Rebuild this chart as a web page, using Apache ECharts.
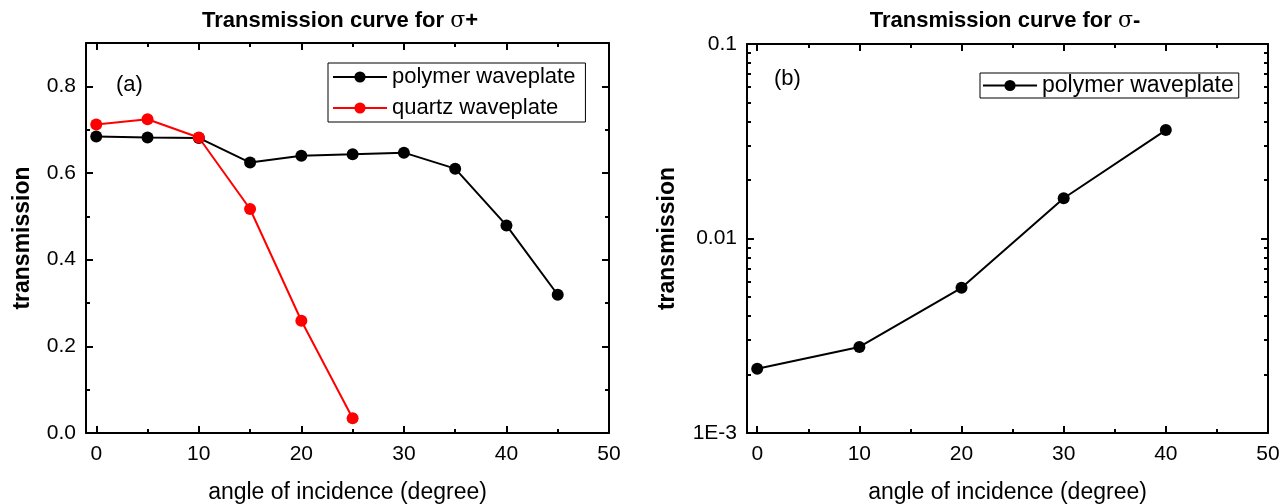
<!DOCTYPE html>
<html>
<head>
<meta charset="utf-8">
<script src="https://cdn.jsdelivr.net/npm/echarts@6/dist/echarts.min.js"></script>
<style>
  html, body { margin: 0; padding: 0; background: #fff; }
  #chart { width: 1286px; height: 504px; }
</style>
</head>
<body>
<div id="chart"></div>
<script>
// panel (a): transmission for sigma+
const anglesA = [0, 5, 10, 15, 20, 25, 30, 35, 40, 45];
const polymerA = [0.684, 0.682, 0.681, 0.624, 0.640, 0.643, 0.647, 0.610, 0.479, 0.319];
const anglesQuartz = [0, 5, 10, 15, 20, 25];
const quartzA = [0.712, 0.724, 0.682, 0.517, 0.259, 0.034];

// panel (b): transmission for sigma-
const anglesB = [0, 10, 20, 30, 40];
const polymerB = [0.00214, 0.00277, 0.00558, 0.0161, 0.0361];

// ticks
const xMajor = [0, 10, 20, 30, 40, 50];
const xMinor = [5, 15, 25, 35, 45];
const yMajorA = [0, 0.2, 0.4, 0.6, 0.8];
const yMinorA = [0.1, 0.3, 0.5, 0.7];
const yMajorB = [0.001, 0.01, 0.1];
const yTickLabelsB = ['1E-3', '0.01', '0.1'];
const yMinorB = [0.002, 0.003, 0.004, 0.005, 0.006, 0.007, 0.008, 0.009,
                 0.02, 0.03, 0.04, 0.05, 0.06, 0.07, 0.08, 0.09];

const FONT = 'Liberation Sans, Arial, sans-serif';
const LINE = { show: true, onZero: false, lineStyle: { color: '#000', width: 2 } };
const NOLINE = { show: false, onZero: false };

function pairs(xs, ys) {
  return xs.map((x, i) => [x, ys[i]]);
}

function tick(vals, len) {
  return { inside: true, length: len, customValues: vals, lineStyle: { width: 2, color: '#000' } };
}

function xAxes(grid, withName) {
  const base = { type: 'value', gridIndex: grid, min: -1, max: 50, splitLine: { show: false } };
  return [
    Object.assign({}, base, {
      position: 'bottom', axisLine: LINE, axisTick: tick(xMajor, 7),
      axisLabel: { customValues: xMajor, fontSize: 21, color: '#000', fontFamily: FONT, margin: 11 },
      name: withName, nameLocation: 'middle', nameGap: 48,
      nameTextStyle: { fontSize: 23, color: '#000', fontFamily: FONT }
    }),
    Object.assign({}, base, { position: 'bottom', axisLine: NOLINE, axisTick: tick(xMinor, 4), axisLabel: { show: false } }),
    Object.assign({}, base, { position: 'top', axisLine: LINE, axisTick: tick(xMajor, 7), axisLabel: { show: false } }),
    Object.assign({}, base, { position: 'top', axisLine: NOLINE, axisTick: tick(xMinor, 4), axisLabel: { show: false } })
  ];
}

function yAxes(grid, base, major, minor, formatter, nameGap) {
  const common = Object.assign({ gridIndex: grid, splitLine: { show: false } }, base);
  return [
    Object.assign({}, common, {
      position: 'left', axisLine: LINE, axisTick: tick(major, 7),
      axisLabel: { customValues: major, formatter: formatter, fontSize: 21, color: '#000', fontFamily: FONT, margin: 10 },
      name: 'transmission', nameLocation: 'middle', nameGap: nameGap,
      nameTextStyle: { fontSize: 23, fontWeight: 'bold', color: '#000', fontFamily: FONT }
    }),
    Object.assign({}, common, { position: 'left', axisLine: NOLINE, axisTick: tick(minor, 4), axisLabel: { show: false } }),
    Object.assign({}, common, { position: 'right', axisLine: LINE, axisTick: tick(major, 7), axisLabel: { show: false } }),
    Object.assign({}, common, { position: 'right', axisLine: NOLINE, axisTick: tick(minor, 4), axisLabel: { show: false } })
  ];
}

function logLabel(v) {
  const e = Math.round(Math.log10(v));
  const i = yMajorB.findIndex(t => Math.round(Math.log10(t)) === e);
  return i >= 0 ? yTickLabelsB[i] : '';
}

function lineSeries(name, color, data, xi, yi) {
  return {
    name: name, type: 'line', xAxisIndex: xi, yAxisIndex: yi, data: data,
    symbol: 'circle', symbolSize: 12, showSymbol: true,
    itemStyle: { color: color }, lineStyle: { color: color, width: 2 }
  };
}

const chart = echarts.init(document.getElementById('chart'), null, { renderer: 'canvas' });

const titleRich = {
  b: { fontSize: 22, fontWeight: 'bold', fontFamily: FONT, fill: '#000' },
  s: { fontSize: 22, fontFamily: 'DejaVu Serif, serif', fill: '#000' }
};

chart.setOption({
  animation: false,
  backgroundColor: '#fff',
  grid: [
    { left: 86, right: 677, top: 43, bottom: 71, containLabel: false, outerBoundsMode: 'none' },
    { left: 747, right: 18, top: 44, bottom: 71, containLabel: false, outerBoundsMode: 'none' }
  ],
  xAxis: xAxes(0, 'angle of incidence (degree)').concat(xAxes(1, 'angle of incidence (degree)')),
  yAxis: yAxes(0, { type: 'value', min: 0, max: 0.9 }, yMajorA, yMinorA, v => v.toFixed(1), 52)
    .concat(yAxes(1, { type: 'log', logBase: 10, min: 0.001, max: 0.1 }, yMajorB, yMinorB, logLabel, 68)),
  legend: [
    {
      data: ['polymer waveplate', 'quartz waveplate'],
      orient: 'vertical', left: 328, top: 63,
      itemWidth: 54, itemHeight: 14, itemGap: 9,
      padding: [3, 10, 3, 4],
      borderColor: '#000', borderWidth: 1,
      textStyle: { fontSize: 22, color: '#000', fontFamily: FONT }
    },
    {
      data: ['polymer waveplate'],
      orient: 'vertical', left: 980, top: 73,
      itemWidth: 54, itemHeight: 14,
      padding: [1, 5, 1, 2],
      borderColor: '#000', borderWidth: 1,
      textStyle: { fontSize: 23, color: '#000', fontFamily: FONT }
    }
  ],
  graphic: [
    { type: 'text', x: 340, y: 21, style: { text: '{b|Transmission curve for }{s|σ}{b|+}', rich: titleRich, align: 'center', verticalAlign: 'middle' } },
    { type: 'text', x: 1005, y: 21, style: { text: '{b|Transmission curve for }{s|σ}{b|-}', rich: titleRich, align: 'center', verticalAlign: 'middle' } },
    { type: 'text', x: 116, y: 85, style: { text: '(a)', fontSize: 22, fontFamily: FONT, fill: '#000', verticalAlign: 'middle' } },
    { type: 'text', x: 774, y: 79, style: { text: '(b)', fontSize: 22, fontFamily: FONT, fill: '#000', verticalAlign: 'middle' } }
  ],
  series: [
    lineSeries('polymer waveplate', '#000', pairs(anglesA, polymerA), 0, 0),
    lineSeries('quartz waveplate', '#ff0000', pairs(anglesQuartz, quartzA), 0, 0),
    lineSeries('polymer waveplate', '#000', pairs(anglesB, polymerB), 4, 4)
  ]
});
</script>
</body>
</html>
